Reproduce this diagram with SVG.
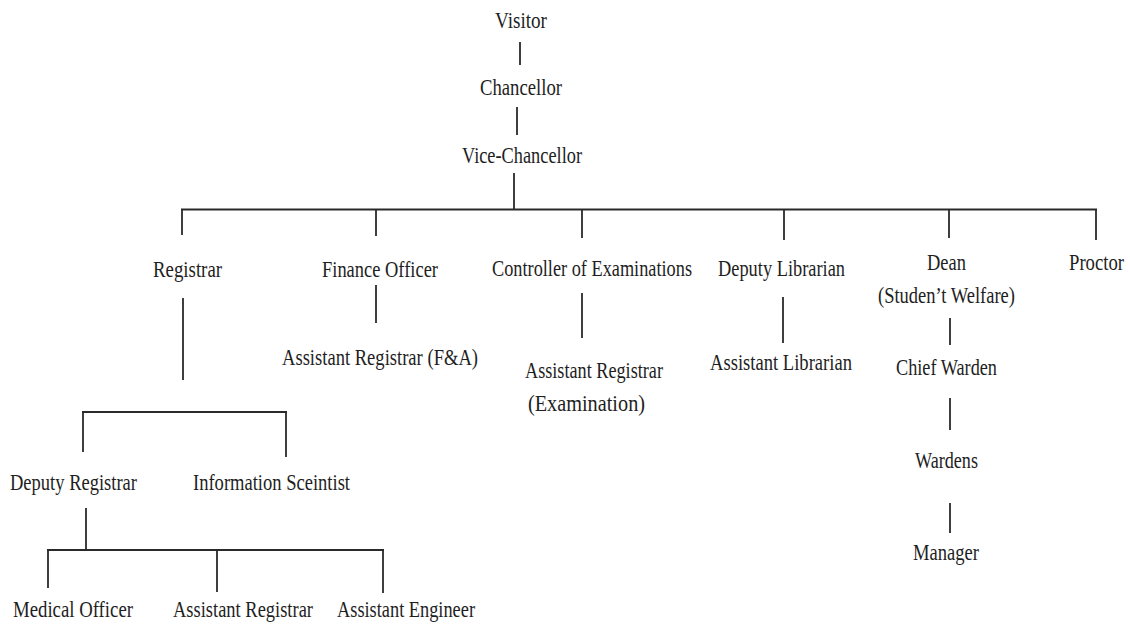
<svg xmlns="http://www.w3.org/2000/svg" width="1130" height="633" viewBox="0 0 1130 633">
<style>
  text { font-family: "Liberation Serif", "Times New Roman", serif; font-size: 23.5px; fill: #1e1e1e; }
  .c line { stroke: #2a2a2a; stroke-width: 1.8; }
</style>
<rect width="1130" height="633" fill="#fff"/>
<g class="c" id="connectors">
  <line x1="520" y1="42" x2="520" y2="65"/>
  <line x1="517" y1="107" x2="517" y2="135"/>
  <line x1="514" y1="173" x2="514" y2="210"/>
  <line x1="181" y1="209.5" x2="1097" y2="209.5"/>
  <line x1="182" y1="209" x2="182" y2="235"/>
  <line x1="376" y1="209" x2="376" y2="236"/>
  <line x1="582" y1="209" x2="582" y2="238"/>
  <line x1="784" y1="209" x2="784" y2="240"/>
  <line x1="949" y1="209" x2="949" y2="238"/>
  <line x1="1096" y1="209" x2="1096" y2="240"/>
  <line x1="376" y1="285" x2="376" y2="323"/>
  <line x1="582" y1="293" x2="582" y2="338"/>
  <line x1="783" y1="297" x2="783" y2="343"/>
  <line x1="183" y1="298" x2="183" y2="380"/>
  <line x1="950" y1="318" x2="950" y2="345"/>
  <line x1="950" y1="398" x2="950" y2="430"/>
  <line x1="950" y1="503" x2="950" y2="533"/>
  <line x1="82" y1="412" x2="287" y2="412"/>
  <line x1="83" y1="411" x2="83" y2="452"/>
  <line x1="286" y1="411" x2="286" y2="457"/>
  <line x1="86" y1="508" x2="86" y2="550"/>
  <line x1="47" y1="550" x2="384" y2="550"/>
  <line x1="48" y1="549" x2="48" y2="588"/>
  <line x1="217" y1="549" x2="217" y2="592"/>
  <line x1="383" y1="549" x2="383" y2="593"/>
</g>
<g id="visitor"><text x="495" y="28" textLength="52" lengthAdjust="spacingAndGlyphs">Visitor</text></g>
<g id="chancellor"><text x="480" y="95" textLength="82" lengthAdjust="spacingAndGlyphs">Chancellor</text></g>
<g id="vice-chancellor"><text x="462" y="163" textLength="120" lengthAdjust="spacingAndGlyphs">Vice-Chancellor</text></g>
<g id="registrar"><text x="153" y="277" textLength="69" lengthAdjust="spacingAndGlyphs">Registrar</text></g>
<g id="finance-officer"><text x="322" y="277" textLength="116" lengthAdjust="spacingAndGlyphs">Finance Officer</text></g>
<g id="controller"><text x="492" y="276" textLength="200" lengthAdjust="spacingAndGlyphs">Controller of Examinations</text></g>
<g id="deputy-librarian"><text x="718" y="276" textLength="127" lengthAdjust="spacingAndGlyphs">Deputy Librarian</text></g>
<g id="dean"><text x="927" y="270" textLength="39" lengthAdjust="spacingAndGlyphs">Dean</text><text x="878" y="303" textLength="137" lengthAdjust="spacingAndGlyphs">(Studen’t Welfare)</text></g>
<g id="proctor"><text x="1069" y="270" textLength="55" lengthAdjust="spacingAndGlyphs">Proctor</text></g>
<g id="asst-registrar-fa"><text x="282" y="365" textLength="196" lengthAdjust="spacingAndGlyphs">Assistant Registrar (F&amp;A)</text></g>
<g id="asst-registrar-exam"><text x="525" y="378" textLength="138" lengthAdjust="spacingAndGlyphs">Assistant Registrar</text><text x="528" y="411" textLength="117" lengthAdjust="spacingAndGlyphs">(Examination)</text></g>
<g id="asst-librarian"><text x="710" y="370" textLength="142" lengthAdjust="spacingAndGlyphs">Assistant Librarian</text></g>
<g id="chief-warden"><text x="896" y="375" textLength="101" lengthAdjust="spacingAndGlyphs">Chief Warden</text></g>
<g id="wardens"><text x="915" y="468" textLength="63" lengthAdjust="spacingAndGlyphs">Wardens</text></g>
<g id="manager"><text x="913" y="560" textLength="66" lengthAdjust="spacingAndGlyphs">Manager</text></g>
<g id="deputy-registrar"><text x="10" y="490" textLength="127" lengthAdjust="spacingAndGlyphs">Deputy Registrar</text></g>
<g id="information-scientist"><text x="193" y="490" textLength="157" lengthAdjust="spacingAndGlyphs">Information Sceintist</text></g>
<g id="medical-officer"><text x="13" y="617" textLength="120" lengthAdjust="spacingAndGlyphs">Medical Officer</text></g>
<g id="assistant-registrar"><text x="173" y="617" textLength="140" lengthAdjust="spacingAndGlyphs">Assistant Registrar</text></g>
<g id="assistant-engineer"><text x="337" y="617" textLength="138" lengthAdjust="spacingAndGlyphs">Assistant Engineer</text></g>
</svg>
